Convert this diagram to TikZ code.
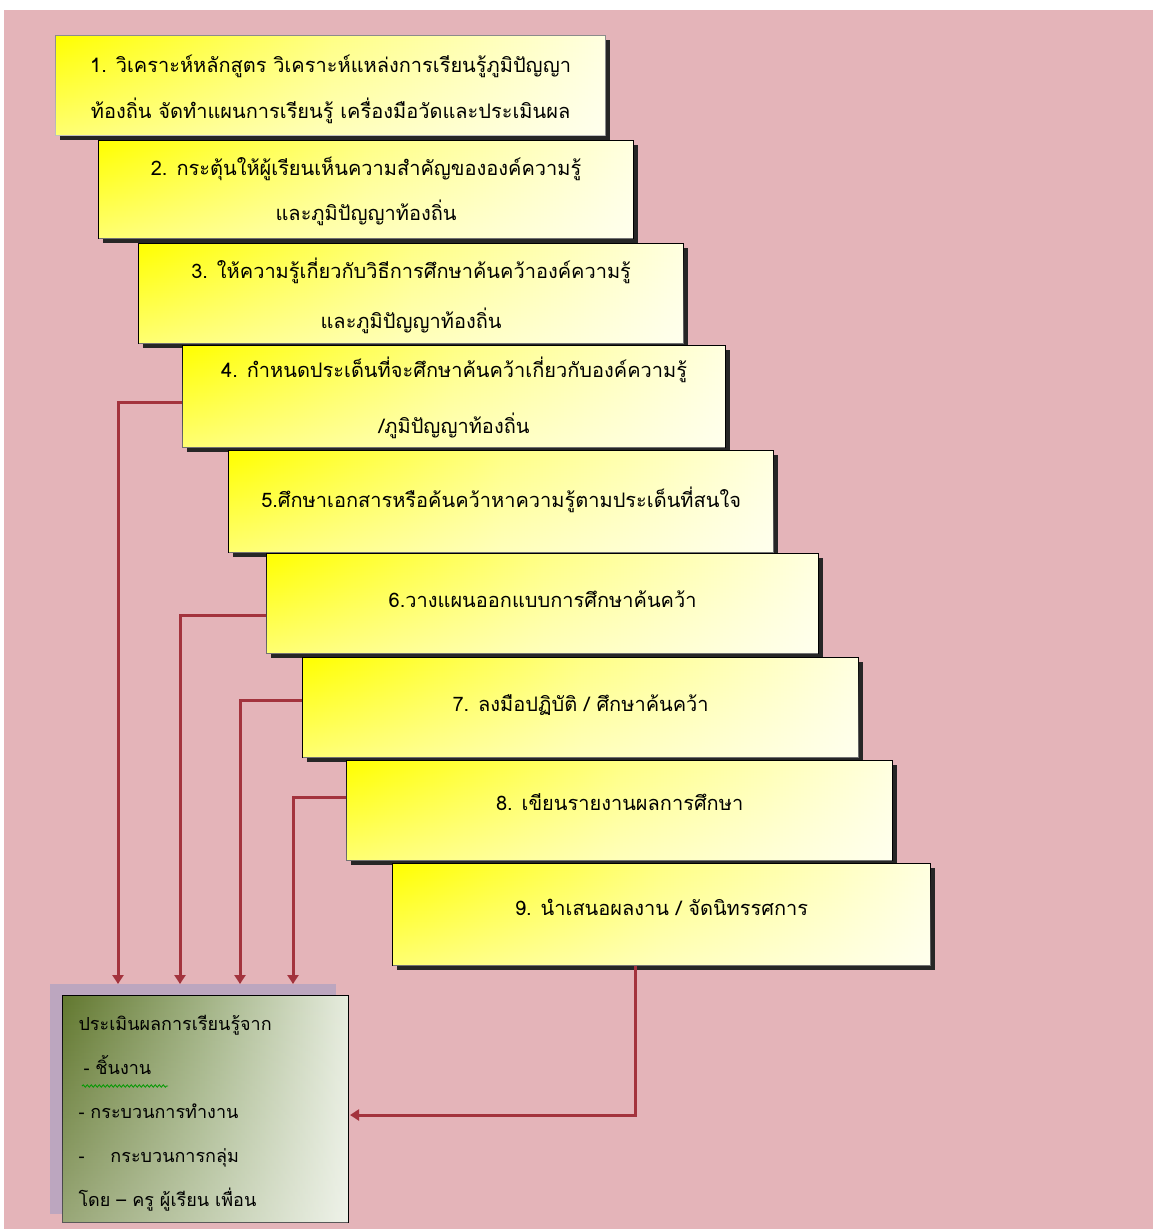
\documentclass[tikz,border=0pt]{standalone}
\usepackage{fontspec}
\newfontfamily\thai[Script=Thai]{Loma}
\usetikzlibrary{calc,arrows.meta,shadows,fadings,decorations.pathmorphing}
\definecolor{bgpink}{HTML}{E4B4B9}
\definecolor{arrred}{HTML}{A3333D}
\definecolor{oliveA}{HTML}{62782F}
\definecolor{oliveB}{HTML}{A2B385}
\definecolor{oliveD}{HTML}{E6ECDE}
\definecolor{lav}{HTML}{BCA6BF}
\begin{document}
\begin{tikzpicture}[x=1pt,y=-1pt,
  stepbox/.style={draw=black, line width=1.2pt,
    left color=yellow, right color=yellow!12, middle color=yellow!48,
    postaction={fill=white, fill opacity=0.45, path fading=north},
    anchor=north west, inner sep=0pt, align=center,
    font=\thai\fontsize{20}{46}\selectfont,
    drop shadow={shadow xshift=4pt, shadow yshift=-4pt, fill=black!85, opacity=1}},
  evalbox/.style={draw=black, line width=1pt,
    left color=oliveA, right color=oliveD, middle color=oliveB,
    postaction={fill=white, fill opacity=0.35, path fading=north},
    anchor=north west, inner sep=0pt, align=left, text width=254pt,
    font=\thai\fontsize{18}{44}\selectfont},
  arr/.style={draw=arrred, line width=3pt, -{Triangle[length=9pt,width=11pt]}}
]
\useasboundingbox (0,0) rectangle (1153,1229);
\fill[white] (0,0) rectangle (1153,1229);
\fill[bgpink] (4,10) rectangle (1153,1229);

\node[stepbox, draw=black!45, minimum width=550pt, minimum height=100pt, text height=70pt, text depth=4pt] (b1) at (55,35)
  {1. วิเคราะห์หลักสูตร วิเคราะห์แหล่งการเรียนรู้ภูมิปัญญา\\ท้องถิ่น จัดทำแผนการเรียนรู้ เครื่องมือวัดและประเมินผล};
\node[stepbox, minimum width=535pt, minimum height=98pt, text height=66pt, text depth=4pt] (b2) at (98,140)
  {2. กระตุ้นให้ผู้เรียนเห็นความสำคัญขององค์ความรู้\\[-1pt]และภูมิปัญญาท้องถิ่น};
\node[stepbox, minimum width=545pt, minimum height=100pt, text height=74pt, text depth=4pt] (b3) at (138,243)
  {3. ให้ความรู้เกี่ยวกับวิธีการศึกษาค้นคว้าองค์ความรู้\\[4pt]และภูมิปัญญาท้องถิ่น};
\node[stepbox, minimum width=543pt, minimum height=102pt, text height=78pt, text depth=4pt] (b4) at (182,345)
  {4. กำหนดประเด็นที่จะศึกษาค้นคว้าเกี่ยวกับองค์ความรู้\\[10pt]/ภูมิปัญญาท้องถิ่น};
\node[stepbox, minimum width=545pt, minimum height=102pt, text depth=8pt] (b5) at (228,450)
  {5.ศึกษาเอกสารหรือค้นคว้าหาความรู้ตามประเด็นที่สนใจ};
\node[stepbox, minimum width=552pt, minimum height=100pt, text depth=8pt] (b6) at (266,553)
  {6.วางแผนออกแบบการศึกษาค้นคว้า};
\node[stepbox, minimum width=556pt, minimum height=100pt, text depth=10pt] (b7) at (302,657)
  {7. ลงมือปฏิบัติ / ศึกษาค้นคว้า};
\node[stepbox, minimum width=546pt, minimum height=100pt, text depth=18pt] (b8) at (346,760)
  {8. เขียนรายงานผลการศึกษา};
\node[stepbox, minimum width=538pt, minimum height=102pt, text depth=14pt] (b9) at (392,863)
  {9. นำเสนอผลงาน / จัดนิทรรศการ};

% evaluation box with its shadow
\fill[lav] (50,984) rectangle (336,1214);
\node[evalbox, minimum width=286pt, minimum height=227pt, text height=15pt, text depth=172pt] (ev) at (62,995)
  {ประเมินผลการเรียนรู้จาก\\
   \hspace*{5pt}- ชิ้นงาน\\
   - กระบวนการทำงาน\\
   -\hspace{26pt}กระบวนการกลุ่ม\\
   โดย – ครู ผู้เรียน เพื่อน};
\draw[green!60!black, line width=0.8pt, decorate, decoration={snake, amplitude=1.2pt, segment length=4pt}] (82,1086) -- (168,1086);

\coordinate (t4) at (118,984);
\coordinate (t6) at (180,984);
\coordinate (t7) at (240,984);
\coordinate (t8) at (293,984);

\draw[arr] ($(b4.west)+(0,6)$) -| (t4);
\draw[arr] ($(b6.west)+(0,12)$) -| (t6);
\draw[arr] ($(b7.west)+(0,-7)$) -| (t7);
\draw[arr] ($(b8.west)+(0,-13)$) -| (t8);
\draw[arr] ($(b9.south)+(-26,0)$) |- ($(ev.east)+(1,6)$);
\end{tikzpicture}
\end{document}
